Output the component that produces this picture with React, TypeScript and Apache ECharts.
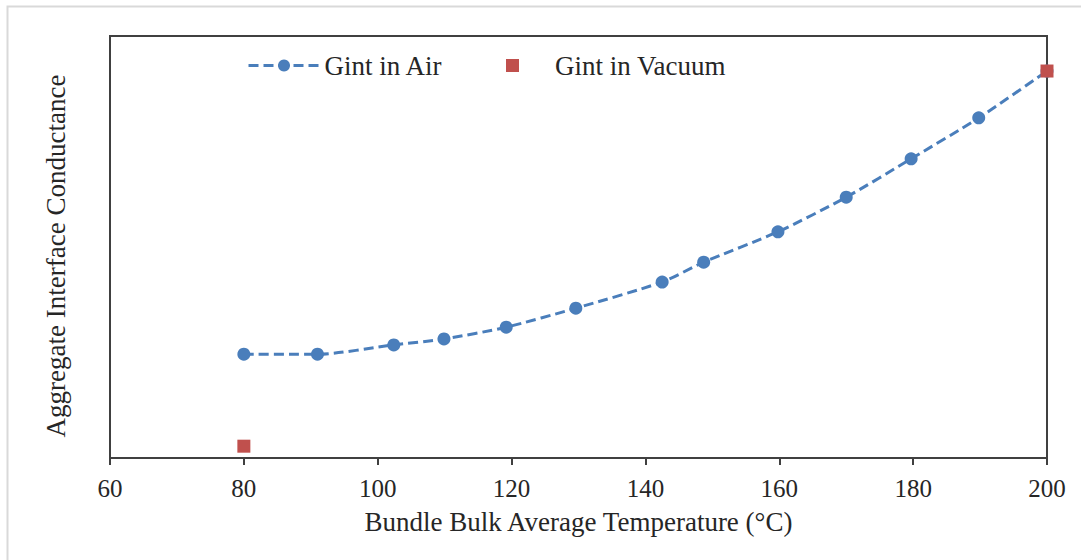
import React, { useEffect, useRef } from "react";
import * as echarts from "echarts";

const airTemps = [80, 91, 102.4, 109.9, 119.2, 129.6, 142.5, 148.7, 159.8, 170.0, 179.7, 189.8, 200];
const airValues = [24.6, 24.6, 26.8, 28.2, 31.0, 35.5, 41.7, 46.4, 53.6, 61.8, 70.9, 80.6, 91.7];
const vacuumTemps = [80, 200];
const vacuumValues = [2.8, 91.7];
const xTicks = [60, 80, 100, 120, 140, 160, 180, 200];

const FONT = "Liberation Serif";

export default function App() {
  const ref = useRef<HTMLDivElement>(null);
  useEffect(() => {
    if (!ref.current) return;
    const chart = echarts.init(ref.current, undefined, { renderer: "svg" });
    chart.setOption({
      animation: false,
      backgroundColor: "#ffffff",
      textStyle: { fontFamily: FONT },
      grid: {
        left: 110, right: 34, top: 36, bottom: 102,
        show: true, borderColor: "#404040", borderWidth: 2, backgroundColor: "transparent",
      },
      xAxis: {
        type: "value",
        min: xTicks[0],
        max: xTicks[xTicks.length - 1],
        interval: 20,
        name: "Bundle Bulk Average Temperature (°C)",
        nameLocation: "middle",
        nameGap: 50,
        nameTextStyle: { fontFamily: FONT, fontSize: 27, color: "#262626" },
        axisLine: { show: true, lineStyle: { color: "#404040", width: 2 } },
        axisTick: { show: true, inside: false, length: 7, lineStyle: { color: "#404040", width: 2 } },
        axisLabel: { fontFamily: FONT, fontSize: 25, color: "#262626", margin: 18 },
        splitLine: { show: false },
      },
      yAxis: {
        type: "value",
        min: 0,
        max: 100,
        axisLine: { show: true, lineStyle: { color: "#404040", width: 2 } },
        axisTick: { show: false },
        axisLabel: { show: false },
        splitLine: { show: false },
      },
      legend: [
        {
          data: ["Gint in Air"],
          left: 247, top: 52, padding: 0,
          itemWidth: 71, itemHeight: 15,
          lineStyle: { width: 3, type: [10, 5] },
          itemStyle: { color: "#4a7ebb" },
          textStyle: { fontFamily: FONT, fontSize: 27, color: "#262626" },
        },
        {
          data: ["Gint in Vacuum"],
          left: 506, top: 52, padding: 0,
          icon: "rect",
          itemWidth: 13, itemHeight: 13,
          itemStyle: { color: "#c0504d", opacity: 1 },
          textStyle: { fontFamily: FONT, fontSize: 27, color: "#262626", padding: [0, 0, 0, 31] },
        },
      ],
      graphic: [
        {
          type: "rect",
          shape: { x: 7.5, y: 6.5, width: 1100, height: 600 },
          style: { fill: "none", stroke: "#d9d9d9", lineWidth: 2 },
          silent: true,
        },
        {
          type: "text",
          x: 56, y: 256,
          rotation: Math.PI / 2,
          style: {
            text: "Aggregate Interface Conductance",
            fontFamily: FONT, fontSize: 27, fill: "#262626",
            align: "center", verticalAlign: "middle",
          },
        },
      ],
      series: [
        {
          name: "Gint in Air",
          type: "line",
          data: airTemps.map((t, i) => [t, airValues[i]]),
          smooth: 0.25,
          symbol: "circle",
          symbolSize: 13,
          itemStyle: { color: "#4a7ebb" },
          lineStyle: { color: "#4a7ebb", width: 3, type: [10, 5] },
          z: 2,
        },
        {
          name: "Gint in Vacuum",
          type: "scatter",
          data: vacuumTemps.map((t, i) => [t, vacuumValues[i]]),
          symbol: "rect",
          symbolSize: 13,
          itemStyle: { color: "#c0504d", opacity: 1 },
          z: 3,
        },
      ],
    });
    return () => chart.dispose();
  }, []);
  return (
    <div
      ref={ref}
      style={{ position: "fixed", left: 0, top: 0, width: 1081, height: 560, background: "#fff" }}
    />
  );
}
